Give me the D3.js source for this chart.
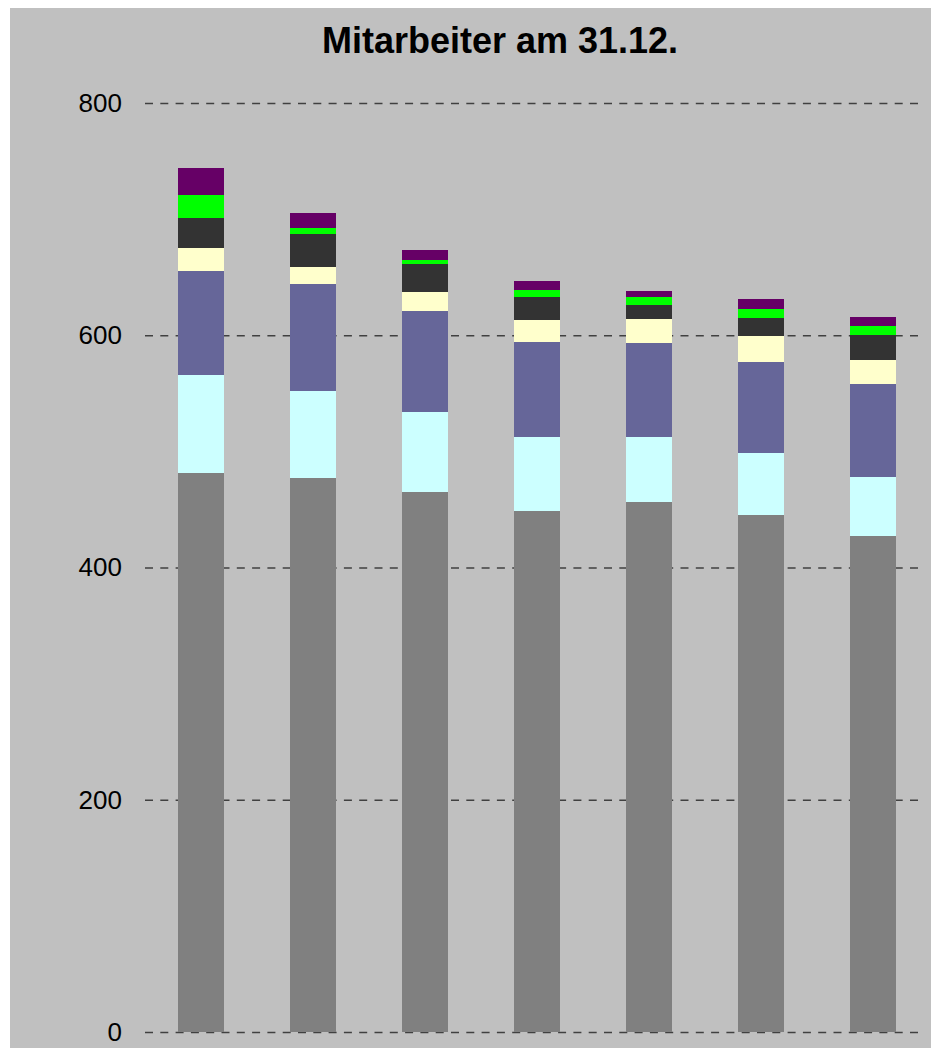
<!DOCTYPE html>
<html>
<head>
<meta charset="utf-8">
<script src="https://cdn.jsdelivr.net/npm/d3@7"></script>
<style>
  html, body { margin: 0; padding: 0; background: #ffffff; }
  svg { display: block; }
</style>
</head>
<body>
<svg id="chart" width="931" height="1048"></svg>
<script>
// ---- data ----
const title = "Mitarbeiter am 31.12.";
const categories = ["1", "2", "3", "4", "5", "6", "7"];
const seriesNames = ["S1", "S2", "S3", "S4", "S5", "S6", "S7"];
const s1 = [481, 477, 465, 449, 456, 445, 427];
const s2 = [85, 75, 69, 63, 56, 54, 51];
const s3 = [89, 92, 87, 82, 81, 78, 80];
const s4 = [20, 15, 16, 19, 21, 22, 21];
const s5 = [26, 28, 24, 20, 12, 16, 21];
const s6 = [20, 5, 4, 6, 7, 8, 8];
const s7 = [23, 13, 8, 8, 5, 8, 8];
const seriesColors = ["#808080", "#ccffff", "#666699", "#ffffcc", "#333333", "#00ff00", "#660066"];
const yTicks = [0, 200, 400, 600, 800];

// ---- layout ----
const svg = d3.select("#chart");
const W = 931, H = 1048;
const plot = { left: 145, right: 929, top: 103, bottom: 1032 };

svg.append("rect").attr("x", 10).attr("y", 8).attr("width", W - 10).attr("height", H - 8)
  .attr("fill", "#c0c0c0");

const x = d3.scaleBand().domain(categories)
  .range([plot.left, plot.right]).paddingInner(0.594).paddingOuter(0.297);
const y = d3.scaleLinear().domain([0, 800]).range([plot.bottom, plot.top]);

// gridlines
const yAxis = d3.axisLeft(y).tickValues(yTicks).tickSize(-(921 - plot.left)).tickPadding(23)
  .tickFormat(d3.format("d"));
const gAxis = svg.append("g").attr("transform", `translate(${plot.left},0)`).call(yAxis);
gAxis.select(".domain").remove();
gAxis.selectAll(".tick line")
  .attr("stroke", "#404040").attr("stroke-width", 1.4).attr("stroke-dasharray", "8,7.3");
gAxis.selectAll(".tick text")
  .attr("font-family", "'Liberation Sans', Arial, sans-serif")
  .attr("font-size", 26).attr("fill", "#000");

// stacked bars
const rows = categories.map((c, i) => {
  const o = { cat: c };
  [s1, s2, s3, s4, s5, s6, s7].forEach((s, k) => o[seriesNames[k]] = s[i]);
  return o;
});
const stack = d3.stack().keys(seriesNames)(rows);
svg.append("g").selectAll("g").data(stack).join("g")
  .attr("fill", (d, k) => seriesColors[k])
  .selectAll("rect").data(d => d).join("rect")
  .attr("x", d => x(d.data.cat))
  .attr("width", x.bandwidth())
  .attr("y", d => y(d[1]))
  .attr("height", d => y(d[0]) - y(d[1]))
  .attr("shape-rendering", "crispEdges");

// title
svg.append("text").attr("x", 500).attr("y", 53).attr("text-anchor", "middle")
  .attr("font-family", "'Liberation Sans', Arial, sans-serif")
  .attr("font-weight", "bold").attr("font-size", 36).attr("fill", "#000")
  .text(title);
</script>
</body>
</html>
